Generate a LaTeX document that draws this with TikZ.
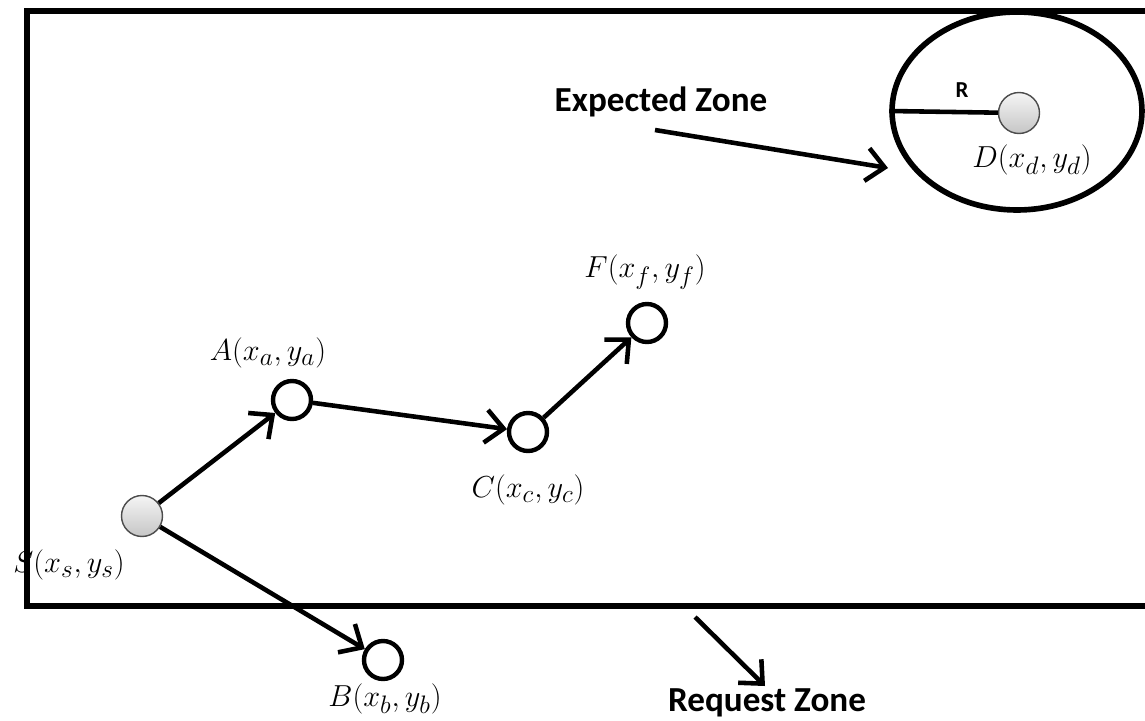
\documentclass[tikz,border=0pt]{standalone}
\usepackage{fontspec}
\newfontfamily\zonefont{Carlito}
\usetikzlibrary{arrows.meta,shapes.geometric}

\begin{document}
\begin{tikzpicture}[x=0.02cm,y=-0.02cm,
  hop/.style={circle,draw,line width=2.5pt,fill=white,minimum size=0.76cm,inner sep=0pt},
  endpt/.style={circle,draw=black!70,line width=0.8pt,top color=gray!8,bottom color=gray!45,minimum size=0.82cm,inner sep=0pt},
  lbl/.style={font=\fontsize{19}{22}\selectfont,inner sep=0pt},
  zone/.style={font=\zonefont\bfseries\fontsize{20}{24}\selectfont,inner sep=0pt},
  go/.style={line width=2.6pt,-{Straight Barb[length=0.36cm,width=0.66cm]}}]
  \useasboundingbox (0,0) rectangle (1145,720);
  \clip (0,0) rectangle (1145,720);
  % request zone
  \draw[line width=3.2pt] (27,11) rectangle (1180,606);
  % expected zone
  \node (EZ) [draw,ellipse,line width=3.2pt,minimum width=5cm,minimum height=3.96cm,inner sep=0pt] at (1017,111) {};
  \node (D) [endpt] at (1019,113) {};
  \draw[line width=2.6pt] (EZ.west) -- (D);
  \node (R) [zone,font=\zonefont\bfseries\fontsize{13}{15}\selectfont] at (962,90) {R};
  \node (Dlab) [lbl] at (1032,160) {$D(x_d,y_d)$};
  % nodes
  \node (S) [endpt] at (142,516) {};
  \node (A) [hop] at (292,400) {};
  \node (C) [hop] at (528,432) {};
  \node (F) [hop] at (647,323) {};
  \node (B) [hop] at (383,660) {};
  \node (Slab) [lbl] at (69,565) {$S(x_s,y_s)$};
  \node (Alab) [lbl] at (268,353) {$A(x_a,y_a)$};
  \node (Clab) [lbl] at (528,490) {$C(x_c,y_c)$};
  \node (Flab) [lbl] at (645,272) {$F(x_f,y_f)$};
  \node (Blab) [lbl] at (385,699) {$B(x_b,y_b)$};
  % route
  \draw[go] (S) -- (A);
  \draw[go] (A) -- (C);
  \draw[go] (C) -- (F);
  \draw[go] (S) -- (B);
  % zone names
  \node (ET) [zone] at (661,102) {Expected Zone};
  \node (RT) [zone] at (767,703) {Request Zone};
  \coordinate (e1) at (655,130);
  \coordinate (e2) at (888,168);
  \coordinate (r1) at (695,617);
  \coordinate (r2) at (765,686);
  \draw[go] (e1) -- (e2);
  \draw[go] (r1) -- (r2);
\end{tikzpicture}
\end{document}
